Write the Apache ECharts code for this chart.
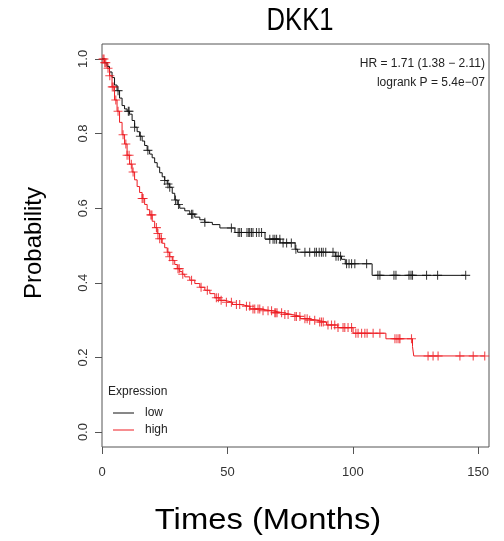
<!DOCTYPE html>
<html>
<head>
<meta charset="utf-8">
<script src="https://cdn.jsdelivr.net/npm/echarts@6/dist/echarts.min.js"></script>
<style>
  html, body { margin: 0; padding: 0; background: #fff; }
  #chart { width: 504px; height: 541px; }
</style>
</head>
<body>
<div id="chart"></div>
<script>
// Kaplan-Meier estimates: event times (months) and survival after each drop
const lowTimes = [0,1,2,3,4,5,6,7,8,9,10,11,12,13,14,15,16,17,18,19,20,21,22,23,24,25,26,27,28,29,30,31,33,35,37,39,41,44,47,53,65,71,77,78,93,95.5,97,107.7];
const lowSurv  = [1,0.99,0.98,0.965,0.95,0.93,0.915,0.895,0.875,0.866,0.86,0.852,0.835,0.817,0.805,0.793,0.78,0.768,0.755,0.745,0.735,0.722,0.71,0.695,0.684,0.674,0.665,0.656,0.64,0.622,0.61,0.6,0.593,0.584,0.576,0.569,0.562,0.556,0.547,0.535,0.517,0.507,0.49,0.482,0.471,0.463,0.451,0.42];
const lowCensor = [6.4,10.5,10.8,13,15.3,18.3,25,26.3,27,29.3,30.5,35.7,36.2,41,51.6,54.3,54.9,55.6,57.8,58.5,58.9,59.6,60.2,61.6,62.6,63.6,66.9,68.2,68.9,69.6,70.9,72.2,73.6,75.5,77.3,80.9,82.8,84.8,85.5,86.6,87.5,88.2,89.2,92.1,93.3,94.2,95.1,97.5,98.5,99.5,100.8,105.5,110,110.8,116.4,117.2,122.4,123.2,123.8,129.4,133.8,145];

const highTimes = [0,1,2,3,4,5,6,7,8,9,10,11,12,13,14,15,16,17,18,19,20,21,22,23,24,25,26,27,28,29,30,31,32,33,35,37,39,41,43,45,47,49,52,55,59,63,68,72,76,79,82,85.5,89.5,94,100.1,113.2,123.8,124.3];
const highSurv  = [1,0.99,0.975,0.955,0.925,0.89,0.86,0.83,0.797,0.772,0.742,0.718,0.697,0.676,0.658,0.642,0.626,0.61,0.596,0.582,0.565,0.548,0.532,0.518,0.506,0.494,0.482,0.47,0.46,0.449,0.438,0.43,0.423,0.416,0.407,0.398,0.388,0.38,0.371,0.36,0.353,0.348,0.342,0.337,0.33,0.325,0.32,0.315,0.31,0.304,0.3,0.295,0.287,0.28,0.265,0.25,0.229,0.204];
const highCensor = [0.4,0.8,1.1,1.5,2.4,3.1,4.1,4.7,5.5,6.4,8.4,9.5,10,10.8,11.7,12.4,16,16.4,19.5,19.9,21.7,22.3,23,23.7,26.3,27,28.3,30.3,30.8,32.2,35.7,39.5,42,45.6,46.4,47.5,49.6,51.6,53.6,54.9,57.6,58.9,60.2,60.9,62.2,62.9,64.2,66.2,67.6,68.9,69.3,69.8,71.6,72.9,74.2,76.9,77.5,78.9,80.9,81.8,82.8,84.8,86.8,87.5,88.2,90.1,91.5,92.8,94.1,96.1,96.8,98.1,99.5,101.2,102.1,103.5,104.8,105.7,108.1,110.8,116.8,117.6,118.4,118.8,123.4,130,132,134,142.7,148,152.6];

const xTicks = [0, 50, 100, 150];
const yTicks = [0, 0.2, 0.4, 0.6, 0.8, 1.0];
const groupNames = ['low', 'high'];
const statLines = ['HR = 1.71 (1.38 \u2212 2.11)', 'logrank P = 5.4e\u221207'];

const FONT = '"Liberation Sans", Arial, sans-serif';
const LOW_COLOR = '#111';
const HIGH_COLOR = '#ee1c22';

// survival value of a step curve at time t
function survAt(times, surv, t) {
  let s = surv[0];
  for (let i = 0; i < times.length; i++) {
    if (times[i] <= t) s = surv[i]; else break;
  }
  return s;
}

// step-line points, carried out to the last censored observation
function curvePoints(times, surv, censor) {
  const pts = times.map((t, i) => [t, surv[i]]);
  const end = censor[censor.length - 1];
  pts.push([end, survAt(times, surv, end)]);
  return pts;
}

function censorPoints(times, surv, censor) {
  return censor.map(t => [t, survAt(times, surv, t)]);
}

const plusSymbol = 'path://M4.4,0h1.2v10h-1.2z M0,4.4h10v1.2h-10z';

const chart = echarts.init(document.getElementById('chart'), null, { renderer: 'canvas' });

chart.setOption({
  animation: false,
  backgroundColor: '#fff',
  grid: {
    left: 102, top: 44, right: 15, bottom: 94,
    show: true, borderColor: '#555', borderWidth: 1
  },
  xAxis: {
    type: 'value', min: 0, max: 154.3,
    axisLine: { show: false, onZero: false },
    splitLine: { show: false },
    axisTick: { show: true, inside: false, length: 7, customValues: xTicks, lineStyle: { color: '#555' } },
    axisLabel: { customValues: xTicks, margin: 19, color: '#333', fontSize: 13, fontFamily: FONT }
  },
  yAxis: {
    type: 'value', min: -0.04, max: 1.04,
    axisLine: { show: false, onZero: false },
    splitLine: { show: false },
    axisTick: { show: true, inside: false, length: 7, customValues: yTicks, lineStyle: { color: '#555' } },
    axisLabel: {
      customValues: yTicks, rotate: 90, margin: 12, color: '#333', fontSize: 13, fontFamily: FONT,
      formatter: v => v.toFixed(1)
    }
  },
  series: [
    {
      name: groupNames[0], type: 'line', step: 'end', showSymbol: false, silent: true,
      data: curvePoints(lowTimes, lowSurv, lowCensor),
      lineStyle: { color: LOW_COLOR, width: 1 }
    },
    {
      name: groupNames[1], type: 'line', step: 'end', showSymbol: false, silent: true,
      data: curvePoints(highTimes, highSurv, highCensor),
      lineStyle: { color: HIGH_COLOR, width: 1 }
    },
    {
      name: groupNames[0] + ' censored', type: 'scatter', silent: true,
      symbol: plusSymbol, symbolSize: 9,
      data: censorPoints(lowTimes, lowSurv, lowCensor),
      itemStyle: { color: LOW_COLOR }
    },
    {
      name: groupNames[1] + ' censored', type: 'scatter', silent: true,
      symbol: plusSymbol, symbolSize: 9,
      data: censorPoints(highTimes, highSurv, highCensor),
      itemStyle: { color: HIGH_COLOR }
    }
  ],
  graphic: [
    {
      type: 'text', x: 300, y: 21, scaleX: 0.8,
      style: { text: 'DKK1', x: 0, y: 0, align: 'center', verticalAlign: 'middle',
               font: '32px ' + FONT, fill: '#000' }
    },
    {
      type: 'text', x: 34, y: 243, rotation: Math.PI / 2,
      style: { text: 'Probability', x: 0, y: 0, align: 'center', verticalAlign: 'middle',
               font: '24px ' + FONT, fill: '#000' }
    },
    {
      type: 'text', x: 268, y: 521, scaleX: 1.13,
      style: { text: 'Times (Months)', x: 0, y: 0, align: 'center', verticalAlign: 'middle',
               font: '29px ' + FONT, fill: '#000' }
    },
    {
      type: 'text', x: 485, y: 64,
      style: { text: statLines[0], align: 'right', verticalAlign: 'middle', font: '12px ' + FONT, fill: '#222' }
    },
    {
      type: 'text', x: 485, y: 83,
      style: { text: statLines[1], align: 'right', verticalAlign: 'middle', font: '12px ' + FONT, fill: '#222' }
    },
    {
      type: 'text', x: 108, y: 392,
      style: { text: 'Expression', align: 'left', verticalAlign: 'middle', font: '12px ' + FONT, fill: '#222' }
    },
    {
      type: 'line', shape: { x1: 113, y1: 413, x2: 134, y2: 413 },
      style: { stroke: LOW_COLOR, lineWidth: 1 }
    },
    {
      type: 'text', x: 145, y: 413,
      style: { text: groupNames[0], align: 'left', verticalAlign: 'middle', font: '12px ' + FONT, fill: '#222' }
    },
    {
      type: 'line', shape: { x1: 113, y1: 430, x2: 134, y2: 430 },
      style: { stroke: HIGH_COLOR, lineWidth: 1 }
    },
    {
      type: 'text', x: 145, y: 430,
      style: { text: groupNames[1], align: 'left', verticalAlign: 'middle', font: '12px ' + FONT, fill: '#222' }
    }
  ]
});
</script>
</body>
</html>
